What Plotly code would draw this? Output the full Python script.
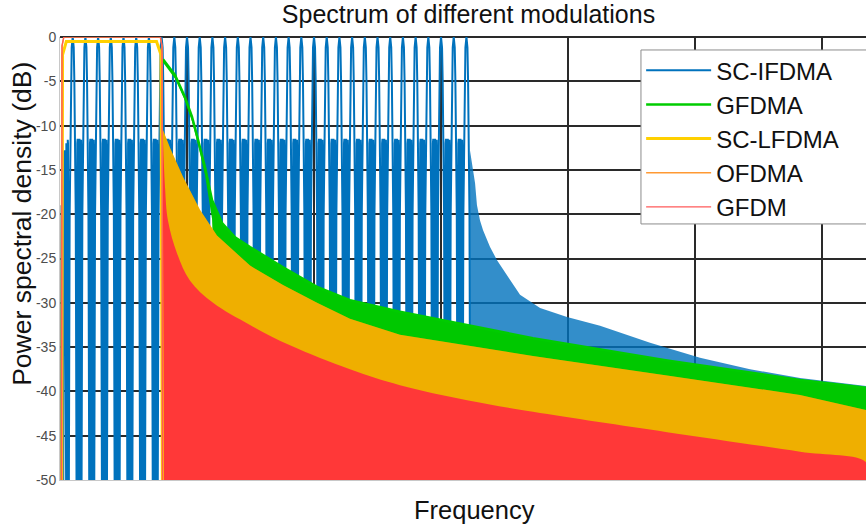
import plotly.graph_objects as go

# ---------------- data (frequency in grid units, PSD in dB) ----------------
# SC-IFDMA: centres of the interleaved main lobes (0 dB peaks)
ifdma_lobe_centres = [0.10, 0.20, 0.30, 0.40, 0.50, 0.60, 0.70, 0.80,
                      0.90, 1.00, 1.10, 1.20, 1.30, 1.40, 1.50, 1.60,
                      1.70, 1.80, 1.90, 2.00, 2.10, 2.20, 2.30, 2.40,
                      2.50, 2.60, 2.70, 2.80, 2.90, 3.00, 3.10, 3.20]
# profile of one lobe + its side-lobe cluster (offset from centre, dB)
ifdma_lobe_dx = [-0.030, -0.024, -0.018, -0.013, -0.008, 0.0, 0.008, 0.013, 0.018, 0.024, 0.030,
                 0.034, 0.036, 0.039, 0.042, 0.044,
                 0.048, 0.050, 0.053, 0.056, 0.058,
                 0.062, 0.064, 0.066, 0.068, 0.070]
ifdma_lobe_db = [-50, -20, -11, -5, -1.2, 0, -1.2, -5, -11, -20, -50,
                 -50, -12, -11.5, -12.5, -50,
                 -50, -12.5, -11.5, -12, -50,
                 -50, -12, -11.6, -13, -50]
# side lobes left of the first main lobe
ifdma_lead_x = [0.006, 0.012, 0.016, 0.020, 0.026, 0.032, 0.035, 0.038, 0.044,
                0.048, 0.050, 0.053, 0.058, 0.061, 0.063, 0.066]
ifdma_lead_db = [-50, -19, -19.5, -50, -50, -13, -12.8, -14, -50,
                 -50, -12, -12.5, -50, -11.6, -12, -50]
# SC-IFDMA out-of-band upper envelope
ifdma_tail_x = [3.228, 3.268, 3.283, 3.307, 3.331, 3.386, 3.441, 3.543, 3.622,
                3.780, 3.992, 4.252, 4.646, 5.039, 5.433, 5.827, 6.346]
ifdma_tail_db = [-12.8, -16.5, -19.0, -20.7, -21.8, -23.7, -25.2, -27.4, -29.1,
                 -30.6, -31.6, -32.6, -34.5, -36.2, -37.5, -38.5, -39.4]

# GFDMA: out-of-band upper / lower envelope
gfdma_x = [0.811, 0.827, 0.906, 0.984, 1.039, 1.087, 1.142, 1.197, 1.276, 1.378,
           1.496, 1.756, 2.024, 2.283, 2.677, 3.724, 4.780, 5.827, 6.346]
gfdma_top = [-2.5, -2.8, -4.3, -6.8, -9.0, -11.6, -14.7, -18.4, -21.0, -22.6,
             -23.7, -26.0, -28.2, -29.7, -31.0, -34.0, -36.5, -38.7, -39.6]
gfdma_low = [-2.9, -3.2, -4.7, -7.2, -9.5, -12.2, -15.6, -20.5, -50, -50,
             -50, -50, -50, -50, -50, -50, -50, -50, -50]

# in-band (occupied) region shared by the localized schemes
band_x = [0.012, 0.016, 0.030, 0.790, 0.803, 0.807]
band_db = [-50, -1.0, 0, 0, -1.0, -50]
lfdma_band_x = [0.014, 0.020, 0.050, 0.760, 0.795, 0.806]
lfdma_band_db = [-50, -2.0, -0.5, -0.5, -2.0, -50]

# SC-LFDMA out-of-band upper envelope
lfdma_x = [0.807, 0.811, 0.866, 0.969, 1.102, 1.236, 1.496, 1.756, 2.024,
           2.283, 2.677, 3.724, 4.780, 5.827, 6.346]
lfdma_top = [-10.3, -10.5, -12.5, -15.8, -19.5, -22.4, -25.8, -28.0, -30.0,
             -31.8, -33.6, -36.0, -38.2, -40.4, -42.1]

# GFDM out-of-band upper envelope
gfdm_x = [0.807, 0.827, 0.850, 0.921, 1.024, 1.205, 1.496, 1.811, 2.283,
          2.677, 3.205, 3.724, 4.780, 5.827, 6.346]
gfdm_top = [-10.0, -17.0, -20.7, -24.4, -27.5, -30.0, -32.5, -34.8, -37.5,
            -39.3, -41.0, -42.3, -44.6, -46.8, -48.0]

y_ticks = [-50, -45, -40, -35, -30, -25, -20, -15, -10, -5, 0]
x_grid = [1, 2, 3, 4, 5, 6]
FLOOR = -50

# ---------------- build helpers ----------------
def band_polygon(xs, top, low=None):
    if low is None:
        low = [FLOOR] * len(xs)
    return list(xs) + list(xs[::-1]), list(top) + list(low[::-1])

blue_x, blue_y = list(ifdma_lead_x), list(ifdma_lead_db)
for i, c in enumerate(ifdma_lobe_centres):
    n = 11 if i == len(ifdma_lobe_centres) - 1 else len(ifdma_lobe_dx)
    for dx, db in zip(ifdma_lobe_dx[:n], ifdma_lobe_db[:n]):
        blue_x.append(c + dx)
        blue_y.append(db)

BLUE = "#0072BD"
GREEN = "#00C800"
YELLOW = "#FFD000"
ORANGE = "#FF9933"
RED = "#FF3838"
FONT = "Liberation Sans, Arial, sans-serif"

fig = go.Figure()

# SC-IFDMA
fig.add_trace(go.Scatter(x=blue_x, y=blue_y, mode="lines", name="SC-IFDMA",
                         line=dict(color=BLUE, width=2), legendrank=1))
tx, ty = band_polygon([ifdma_tail_x[0]] + ifdma_tail_x, [FLOOR] + ifdma_tail_db)
fig.add_trace(go.Scatter(x=tx, y=ty, mode="lines", fill="toself",
                         fillcolor="rgba(0,114,189,0.8)", line=dict(width=0),
                         showlegend=False, hoverinfo="skip"))

# GFDMA
gx, gy = band_polygon(gfdma_x, gfdma_top, gfdma_low)
fig.add_trace(go.Scatter(x=gx, y=gy, mode="lines", fill="toself",
                         fillcolor=GREEN, line=dict(width=0),
                         showlegend=False, hoverinfo="skip"))
fig.add_trace(go.Scatter(x=gfdma_x, y=gfdma_top, mode="lines", name="GFDMA",
                         line=dict(color="#00CC00", width=2.5), legendrank=2))

# SC-LFDMA (out-of-band) + OFDMA tint
lx, ly = band_polygon(lfdma_x, lfdma_top)
fig.add_trace(go.Scatter(x=lx, y=ly, mode="lines", fill="toself",
                         fillcolor="#F2BE00", line=dict(width=0),
                         showlegend=False, hoverinfo="skip"))
fig.add_trace(go.Scatter(x=lx, y=ly, mode="lines", fill="toself",
                         fillcolor="rgba(230,130,0,0.25)", line=dict(width=0),
                         showlegend=False, hoverinfo="skip"))

# GFDM (out-of-band)
rx, ry = band_polygon(gfdm_x, gfdm_top)
fig.add_trace(go.Scatter(x=rx, y=ry, mode="lines", fill="toself",
                         fillcolor=RED, line=dict(width=0, shape="spline"),
                         showlegend=False, hoverinfo="skip"))

# in-band edges
fig.add_trace(go.Scatter(x=lfdma_band_x, y=lfdma_band_db, mode="lines", name="SC-LFDMA",
                         line=dict(color=YELLOW, width=3), legendrank=3))
fig.add_trace(go.Scatter(x=band_x, y=band_db, mode="lines", name="OFDMA",
                         line=dict(color=ORANGE, width=1.5), legendrank=4))
fig.add_trace(go.Scatter(x=band_x, y=band_db, mode="lines", name="GFDM",
                         line=dict(color="#FF5A5A", width=1.2), legendrank=5))

GRID = "#2a2a2a"
fig.update_layout(
    width=866, height=529,
    margin=dict(l=60, r=0, t=37, b=49),
    paper_bgcolor="white", plot_bgcolor="white",
    font=dict(family=FONT, color="#262626"),
    title=dict(text="Spectrum of different modulations", x=0.541, xanchor="center",
               y=1 - 14 / 529, yanchor="middle", font=dict(size=25, color="#111")),
    showlegend=True,
    legend=dict(x=0.721, y=0.975, xanchor="left", yanchor="top",
                bgcolor="rgba(0,0,0,0)", borderwidth=0,
                font=dict(size=24, color="#111"), itemwidth=65,
                tracegroupgap=0),
    shapes=[
        # legend frame (runs past the right edge as in the reference)
        dict(type="rect", xref="paper", yref="paper",
             x0=0.7208, x1=1.02, y0=0.578, y1=0.9707,
             fillcolor="white", line=dict(color="#8c8c8c", width=1), layer="above"),
    ],
    xaxis=dict(range=[0, 6.346], tickvals=x_grid, showticklabels=False,
               showgrid=True, gridcolor=GRID, gridwidth=2, zeroline=False,
               showline=True, linecolor="#c8c8c8", linewidth=1, ticks=""),
    yaxis=dict(range=[FLOOR, 0], tickvals=y_ticks, ticktext=[str(v) for v in y_ticks],
               showgrid=True, gridcolor=GRID, gridwidth=2,
               zeroline=True, zerolinecolor=GRID, zerolinewidth=2,
               showline=True, linecolor="#c8c8c8", linewidth=1,
               tickfont=dict(size=14, color="#4d4d4d"), ticks=""),
    annotations=[
        dict(text="Power spectral density (dB)", xref="paper", yref="paper",
             x=-0.048, y=0.579, textangle=-90, showarrow=False,
             xanchor="center", yanchor="middle", font=dict(size=26.5, color="#111")),
        dict(text="Frequency", xref="paper", yref="paper",
             x=0.514, y=-0.068, showarrow=False, xanchor="center", yanchor="middle",
             font=dict(size=25.5, color="#111")),
    ],
)

fig.write_html("out.html")
